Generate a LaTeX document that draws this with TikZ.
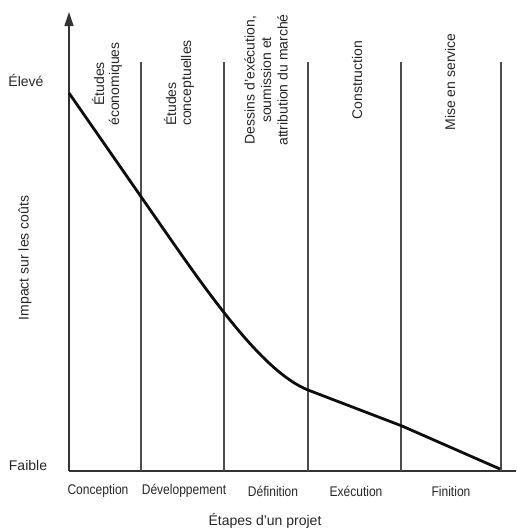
\documentclass[tikz,border=0pt]{standalone}
\usepackage{fontspec}
\setmainfont{Liberation Sans}
\newfontfamily\stagefont[FakeStretch=0.86]{Liberation Sans}
\usetikzlibrary{arrows.meta}
\begin{document}
\begin{tikzpicture}[x=1pt,y=-1pt,
  axis/.style={line width=1.3pt, draw=black!80},
  divider/.style={line width=1.2pt, draw=black!70},
  costcurve/.style={line width=2.8pt, line join=round, draw=black!95},
  lbl/.style={font=\fontsize{14}{15}\selectfont, inner sep=0pt, text=black!85},
  vlbl/.style={lbl, rotate=90, align=center},
  stagelbl/.style={font=\stagefont\fontsize{14}{15}\selectfont, inner sep=0pt, text=black!85}]
\useasboundingbox (0,0) rectangle (517,531);

% axes
\coordinate (O) at (69,471);
\coordinate (ytop) at (69,12);
\coordinate (xend) at (516,471);
\draw[axis, -{Triangle[length=14pt,width=9pt]}] (O) -- (ytop);
\draw[axis] (O) -- (xend);

% phase dividers
\foreach \n/\x in {a/141,b/224,c/308,d/401,e/501}{
  \coordinate (\n top) at (\x,62);
  \coordinate (\n bot) at (\x,471);
  \draw[divider] (\n top) -- (\n bot);
}

% cost-influence curve
\coordinate (c0) at (69,93);
\coordinate (c1) at (160,224);
\coordinate (c2) at (308,390);
\coordinate (c3) at (402,426);
\coordinate (c4) at (500,469);
\draw[costcurve] (c0) -- (c1) .. controls (210,296) and (263,372) .. (c2) -- (c3) -- (c4);

% axis labels
\node[lbl] (hi) at (26,80) {Élevé};
\node[lbl] (lo) at (28,465) {Faible};
\node[lbl, rotate=90] (ylab) at (25,258) {Impact sur les coûts};
\node[lbl] (xlab) at (265,521) {Étapes d’un projet};

% stage names
\node[stagelbl] (s1) at (98,491) {Conception};
\node[stagelbl] (s2) at (184,491) {Développement};
\node[stagelbl] (s3) at (273,491) {Définition};
\node[stagelbl] (s4) at (356,491) {Exécution};
\node[stagelbl] (s5) at (451,491) {Finition};

% activity names
\node[vlbl] (p1) at (107,84) {Études\\économiques};
\node[vlbl, align=left] (p2) at (179,83) {Études\\conceptuelles};
\node[vlbl, font=\fontsize{14}{16.5}\selectfont] (p3) at (266,80) {Dessins d’exécution,\\soumission et\\attribution du marché};
\node[vlbl] (p4) at (357,80) {Construction};
\node[vlbl] (p5) at (450,82) {Mise en service};
\end{tikzpicture}
\end{document}
